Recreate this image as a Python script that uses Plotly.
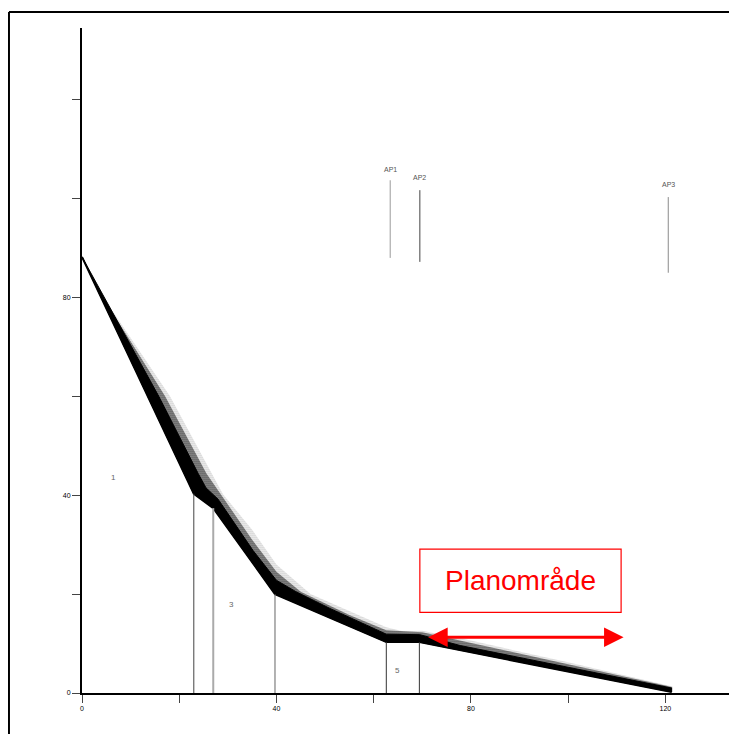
import plotly.graph_objects as go

# ---- data ----
# lower edge of the simulated band (break points)
lower_x = [0, 23, 27, 39.7, 62.6, 69.4, 121.3]
lower_y = [88.2, 40.3, 37.4, 20.0, 10.3, 10.3, 0.2]

# top of the dense (solid) core of the band
core_x = [0, 15.8, 23.9, 25.5, 28, 35.2, 40, 44, 51, 62.6, 69.5, 77.8, 100, 121.3]
core_y = [88.2, 60, 44.4, 41.5, 39.2, 28.8, 22.8, 20.5, 17.1, 11.9, 11.8, 9.6, 5.2, 1.0]

# edge of the densely speckled part
mid_x = [0, 4.0, 17.1, 25.6, 29, 35, 40, 45, 55, 62.6, 70, 80, 100, 121.4]
mid_y = [88.2, 80.5, 60, 44.4, 39.6, 31, 24.5, 20.5, 15.8, 12.7, 12.3, 10.2, 5.8, 1.2]

# outer envelope of the scattered points
outer_x = [0, 4.4, 18.1, 26.7, 29, 35, 40, 47, 55, 62.6, 66, 70, 80, 100, 121.5]
outer_y = [88.2, 80, 60, 44.4, 40.2, 33, 26, 20, 16.5, 13.3, 12.5, 12.6, 10.6, 6.2, 1.3]

# vertical section lines (at break points 1..5)
section_colors = ["#444444", "#aaaaaa", "#666666", "#333333", "#333333"]
section_widths = [1, 2, 1, 1, 1]

# section labels
section_labels = ["1", "3", "5"]
section_label_x = [6.4, 30.7, 64.8]
section_label_y = [43.6, 17.8, 4.6]

# AP markers
ap_names = ["AP1", "AP2", "AP3"]
ap_x = [63.4, 69.5, 120.6]
ap_y0 = [88.0, 87.2, 85.0]
ap_y1 = [103.7, 101.7, 100.3]
ap_label_y = [105.9, 104.3, 102.9]
ap_colors = ["#9a9a9a", "#444444", "#8a8a8a"]

# axis ticks
tick_vals = [0, 20, 40, 60, 80, 100, 120]
x_tick_text = ["0", "", "40", "", "80", "", "120"]
y_tick_text = ["0", "", "40", "", "80", "", ""]

# "Planområde" box and arrow
box_x = [69.5, 110.9]
box_y = [16.3, 29.1]
arrow_x = [70.9, 111.4]
arrow_y = 11.3
plan_label = "Planområde"

FONT = "Liberation Sans, Arial, sans-serif"

fig = go.Figure()

# outer sparse scatter region (stippled)
fig.add_trace(go.Scatter(
    x=lower_x + outer_x[::-1], y=lower_y + outer_y[::-1],
    fill="toself", mode="lines", line=dict(width=0, color="black"),
    fillcolor="rgba(0,0,0,0)",
    fillpattern=dict(shape=".", fgcolor="black", bgcolor="rgba(255,255,255,0)",
                     size=2, solidity=0.3),
    hoverinfo="skip", showlegend=False))

# denser speckled region
fig.add_trace(go.Scatter(
    x=lower_x + mid_x[::-1], y=lower_y + mid_y[::-1],
    fill="toself", mode="lines", line=dict(width=0, color="black"),
    fillcolor="rgba(0,0,0,0.35)",
    fillpattern=dict(shape=".", fgcolor="black", bgcolor="rgba(0,0,0,0.3)",
                     size=2, solidity=0.6),
    hoverinfo="skip", showlegend=False))

# dense core
fig.add_trace(go.Scatter(
    x=lower_x + core_x[::-1], y=lower_y + core_y[::-1],
    fill="toself", mode="lines", line=dict(width=1, color="black"),
    fillcolor="black", hoverinfo="skip", showlegend=False))

# lower edge line
fig.add_trace(go.Scatter(x=lower_x, y=lower_y, mode="lines",
                         line=dict(color="black", width=2),
                         hoverinfo="skip", showlegend=False))

# vertical section lines
for i in range(5):
    bx = lower_x[i + 1]
    by = lower_y[i + 1]
    fig.add_trace(go.Scatter(x=[bx, bx], y=[0, by], mode="lines",
                             line=dict(color=section_colors[i], width=section_widths[i]),
                             hoverinfo="skip", showlegend=False))

# AP lines
for i in range(3):
    fig.add_trace(go.Scatter(x=[ap_x[i], ap_x[i]], y=[ap_y0[i], ap_y1[i]], mode="lines",
                             line=dict(color=ap_colors[i], width=1),
                             hoverinfo="skip", showlegend=False))

annotations = []
for name, x, y in zip(ap_names, ap_x, ap_label_y):
    annotations.append(dict(x=x, y=y, text=name, showarrow=False,
                            font=dict(family=FONT, size=7, color="#555555")))
for t, x, y in zip(section_labels, section_label_x, section_label_y):
    annotations.append(dict(x=x, y=y, text=t, showarrow=False,
                            font=dict(family=FONT, size=8, color="#666666")))

annotations.append(dict(x=(box_x[0] + box_x[1]) / 2, y=(box_y[0] + box_y[1]) / 2,
                        text=plan_label, showarrow=False,
                        font=dict(family=FONT, size=28, color="#ff0000")))

annotations.append(dict(x=arrow_x[1], y=arrow_y, ax=arrow_x[0], ay=arrow_y,
                        xref="x", yref="y", axref="x", ayref="y", text="",
                        showarrow=True, arrowhead=2, startarrowhead=2,
                        arrowside="end+start", arrowsize=1.3, startarrowsize=1.3,
                        arrowwidth=3, arrowcolor="#ff0000"))

shapes = [
    dict(type="rect", xref="x", yref="y", x0=box_x[0], x1=box_x[1], y0=box_y[0], y1=box_y[1],
         line=dict(color="#ff0000", width=1.2)),
    # outer frame: only the left and top edges are inside the picture
    dict(type="line", xref="paper", yref="paper", x0=-0.1127, x1=-0.1127, y0=-0.2, y1=1.0241,
         line=dict(color="black", width=2)),
    dict(type="line", xref="paper", yref="paper", x0=-0.1127, x1=1.3, y0=1.0241, y1=1.0241,
         line=dict(color="black", width=2)),
]

fig.update_layout(
    width=729, height=726,
    margin=dict(l=74, r=7, t=20, b=41.4),
    plot_bgcolor="white", paper_bgcolor="white",
    showlegend=False,
    annotations=annotations,
    shapes=shapes,
    xaxis=dict(range=[0, 133.3], showgrid=False, zeroline=False,
               showline=True, linecolor="black", linewidth=2,
               ticks="outside", ticklen=8, tickcolor="#444444", tickwidth=1,
               tickvals=tick_vals, ticktext=x_tick_text,
               tickfont=dict(family=FONT, size=7, color="#000000")),
    yaxis=dict(range=[0, 134.5], showgrid=False, zeroline=False,
               showline=True, linecolor="black", linewidth=2,
               ticks="outside", ticklen=8, tickcolor="#444444", tickwidth=1,
               tickvals=tick_vals, ticktext=y_tick_text,
               tickfont=dict(family=FONT, size=7, color="#000000")),
)

fig.write_html("out.html")
